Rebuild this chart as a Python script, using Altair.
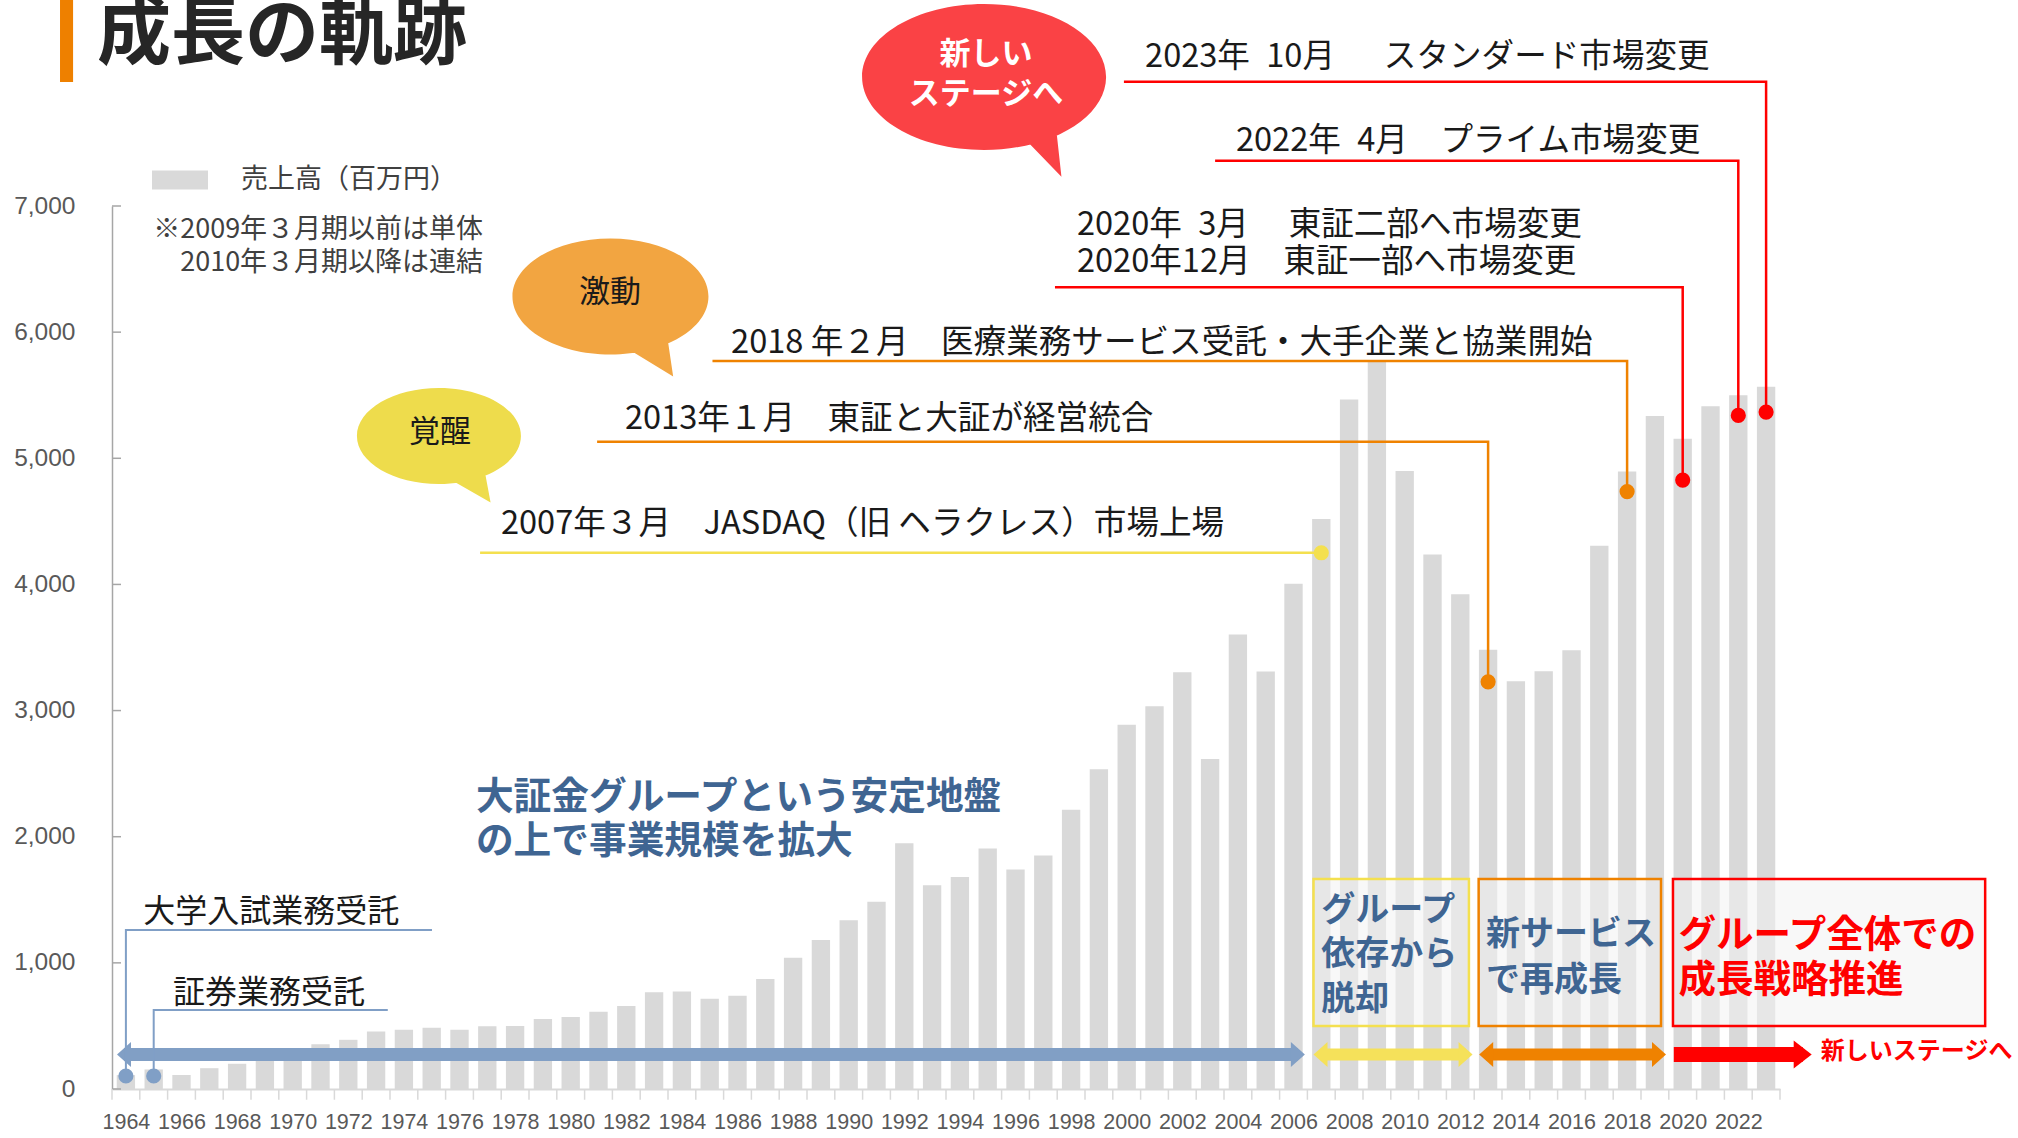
import altair as alt
import pandas as pd

# ---------------- data ----------------
years = list(range(1964, 2024))
sales = [110, 155, 110, 165, 200, 255, 295, 355, 390, 455,
         470, 485, 470, 497, 500, 555, 570, 613, 658, 767,
         772, 716, 740, 872, 1040, 1182, 1338, 1485, 1948, 1615,
         1680, 1906, 1741, 1852, 2214, 2534, 2887, 3034, 3304, 2616,
         3603, 3310, 4005, 4518, 5466, 5780, 4899, 4238, 3923, 3483,
         3232, 3312, 3479, 4307, 4896, 5336, 5154, 5412, 5500, 5568]
series_name = "売上高（百万円）"
label_years = list(range(1964, 2024, 2))
y_ticks = [0, 1000, 2000, 3000, 4000, 5000, 6000, 7000]

# milestones (dot on bar, leader line to a caption)
ms_years = [1964, 1965, 2007, 2013, 2018, 2020, 2022, 2023]
ms_values = [103, 103, 4251, 3228, 4736, 4827, 5340, 5366]
ms_group = ["blue", "blue", "yellow", "orange", "orange", "red", "red", "red"]
ms_leader_start = [1975.01, 1973.42, 1976.74, 1980.95, 1985.10, 1997.42, 2003.18, 1999.90]
ms_leader_level = [1260, 626, 4251, 5131, 5771, 6355, 7359, 7985]

event_texts = ["2023年\u200210月\u3000\u2002スタンダード市場変更",
               "2022年\u20024月\u3000プライム市場変更",
               "2020年\u20023月\u3000 東証二部へ市場変更",
               "2020年12月\u3000東証一部へ市場変更",
               "2018 年２月　医療業務サービス受託・大手企業と協業開始",
               "2013年１月　東証と大証が経営統合",
               "2007年３月　JASDAQ（旧 ヘラクレス）市場上場"]
event_x = [2000.66, 2003.93, 1998.21, 1998.21, 1985.77, 1981.95, 1977.49]
event_y = [8185, 7515, 6850, 6557, 5912, 5310, 4478]

origin_texts = ["大学入試業務受託", "証券業務受託"]
origin_x = [1964.62, 1965.69]
origin_y = [1400, 760]

stage_names = ["yellow", "orange", "red"]
stage_x1 = [2006.72, 2012.66, 2019.65]
stage_x2 = [2012.31, 2019.22, 2030.88]
stage_lines = [["グループ", "依存から", "脱却"], ["新サービス", "で再成長"], ["グループ全体での", "成長戦略推進"]]
stage_line_y = [[1413, 1064, 707], [1223, 858], [1215, 858]]

blue_msg = ["大証金グループという安定地盤", "の上で事業規模を拡大"]
blue_msg_y = [2310, 1955]

note_lines = ["※2009年３月期以前は単体", "2010年３月期以降は連結"]
note_y = [6806, 6552]

# ---------------- style ----------------
JP = "Noto Sans CJK JP"
NUM = "Liberation Sans, Arial, Noto Sans"
BAR = "#D9D9D9"
BLUE_TXT = "#3F6592"
BLUE_LN = "#809FC6"
YELLOW = "#F4E04F"
ORANGE = "#EF8200"
RED = "#FF0000"
COL = {"blue": BLUE_LN, "yellow": YELLOW, "orange": ORANGE, "red": RED}

W, H = 1668, 883
X0, X1 = 1963.5, 2023.5
PXY = W / (X1 - X0)  # pixels per year
xs = alt.Scale(domain=[X0, X1], nice=False, zero=False)
ys = alt.Scale(domain=[0, 7000], nice=False, zero=True)

x_axis = alt.Axis(values=label_years, labelExpr="format(datum.value, 'd')", title=None,
                  ticks=False, grid=False, domainColor=BAR, domainWidth=2, labelFont=NUM,
                  labelFontSize=21.5, labelColor="#595959", labelPadding=22, labelFlush=False,
                  labelOverlap=False)
y_axis = alt.Axis(values=y_ticks, labelExpr="format(datum.value, ',')", title=None,
                  ticks=False, grid=False, domainColor="#A6A6A6", domainWidth=1.5,
                  labelFont=NUM, labelFontSize=24.5, labelColor="#595959", labelPadding=37)


def XQ(f):
    return alt.X(f, type="quantitative", scale=xs, axis=x_axis)


def YQ(f):
    return alt.Y(f, type="quantitative", scale=ys, axis=y_axis)


def XD(v):
    return alt.X(datum=v, scale=xs, axis=x_axis)


def YD(v):
    return alt.Y(datum=v, scale=ys, axis=y_axis)


def ellipse_path(k, tail):
    c = 0.5523
    e = (f"M-1,0C-1,{-c*k:.4f} {-c:.4f},{-k:.4f} 0,{-k:.4f}"
         f"C{c:.4f},{-k:.4f} 1,{-c*k:.4f} 1,0"
         f"C1,{c*k:.4f} {c:.4f},{k:.4f} 0,{k:.4f}"
         f"C{-c:.4f},{k:.4f} -1,{c*k:.4f} -1,0Z")
    (ax, ay), (bx, by), (tx, ty) = tail
    return e + f"M{ax},{ay}L{bx},{by}L{tx},{ty}Z"


layers = []

# ---------------- bars ----------------
bar_df = pd.DataFrame({"year": years, "sales": sales, "series": series_name})
bars = alt.Chart(bar_df).transform_calculate(
    lo="datum.year - 0.33", hi="datum.year + 0.33"
).mark_bar(stroke=None).encode(
    x=XQ("lo:Q"),
    x2="hi:Q",
    y=YQ("sales:Q"),
    y2=alt.Y2(datum=0),
    color=alt.Color("series:N", scale=alt.Scale(domain=[series_name], range=[BAR]),
                    legend=alt.Legend(title=None, orient="none", legendX=40, legendY=-54,
                                      symbolType="M-1,-0.34L1,-0.34L1,0.34L-1,0.34Z",
                                      symbolSize=3136, symbolStrokeWidth=0, symbolOpacity=1,
                                      labelFont=JP, labelFontSize=27, labelColor="#404040",
                                      labelOffset=33, labelLimit=0)),
    tooltip=["year:Q", "sales:Q"],
)
layers.append(bars)

# axis tick marks: inward on y, between bands on x
ytk = pd.DataFrame({"v": y_ticks})
layers.append(alt.Chart(ytk).mark_rule(color="#A6A6A6", strokeWidth=1.5).encode(
    y=YQ("v:Q"), x=XD(X0), x2=alt.X2(datum=X0 + 9 / PXY)))
xtk = pd.DataFrame({"b": [y - 0.5 for y in years] + [years[-1] + 0.5]})
layers.append(alt.Chart(xtk).mark_rule(color=BAR, strokeWidth=1.5).encode(
    x=XQ("b:Q"), y=YD(0), y2=alt.Y2(datum=-85)))

# ---------------- stage boxes ----------------
box_df = pd.DataFrame({"g": stage_names, "x1": stage_x1, "x2": stage_x2})
for g, sc in zip(stage_names, [YELLOW, ORANGE, RED]):
    layers.append(alt.Chart(box_df).transform_filter(f"datum.g == '{g}'").mark_rect(
        fill="#F2F2F2", fillOpacity=0.55, stroke=sc, strokeWidth=2.5).encode(
        x=XQ("x1:Q"), x2="x2:Q", y=YD(499), y2=alt.Y2(datum=1665)))


# ---------------- arrows ----------------
def arrow(xl, xr, yv, color, body, hw, hh, left_head=True):
    out = []
    a = hw / (hh / 2)
    lc = xl + hw / PXY if left_head else xl
    rc = xr - hw / PXY
    df = pd.DataFrame({"a": [lc], "b": [rc], "y": [yv]})
    out.append(alt.Chart(df).mark_rule(color=color, strokeWidth=body, strokeCap="butt").encode(
        x=XQ("a:Q"), x2="b:Q", y=YQ("y:Q")))
    heads = [(rc, f"M-{a:.3f},-1L{a:.3f},0L-{a:.3f},1Z")]
    if left_head:
        heads.append((lc, f"M{a:.3f},-1L-{a:.3f},0L{a:.3f},1Z"))
    for hx, shp in heads:
        hdf = pd.DataFrame({"x": [hx], "y": [yv]})
        out.append(alt.Chart(hdf).mark_point(shape=shp, size=hh * hh, filled=True, fill=color,
                                              opacity=1, strokeWidth=0).encode(
            x=XQ("x:Q"), y=YQ("y:Q")))
    return out


layers += arrow(1963.68, 2006.41, 273, "#819FC5", 13, 7, 25)
layers += arrow(2006.72, 2012.44, 273, "#F5E15A", 12, 7, 25)
layers += arrow(2012.68, 2019.40, 273, ORANGE, 12, 7, 25)
layers += arrow(2019.68, 2024.64, 273, RED, 15, 9, 28, left_head=False)

# ---------------- leader lines & dots ----------------
rows = []
for i, (yr, v, g, xs0, lv) in enumerate(zip(ms_years, ms_values, ms_group, ms_leader_start, ms_leader_level)):
    rows += [dict(id=i, seq=0, x=xs0, y=lv, g=g), dict(id=i, seq=1, x=yr, y=lv, g=g),
             dict(id=i, seq=2, x=yr, y=v, g=g)]
lead_df = pd.DataFrame(rows)
dot_df = pd.DataFrame({"x": ms_years, "y": ms_values, "g": ms_group})
for g in ["blue", "yellow", "orange", "red"]:
    layers.append(alt.Chart(lead_df).transform_filter(f"datum.g == '{g}'").mark_line(
        color=COL[g], strokeWidth=2 if g == "blue" else 2.5, strokeJoin="miter").encode(
        x=XQ("x:Q"), y=YQ("y:Q"), detail="id:N", order="seq:Q"))
for g in ["blue", "yellow", "orange", "red"]:
    layers.append(alt.Chart(dot_df).transform_filter(f"datum.g == '{g}'").mark_point(
        shape="circle", size=230, filled=True, color=COL[g], opacity=1).encode(
        x=XQ("x:Q"), y=YQ("y:Q")))

# ---------------- speech bubbles ----------------
bubbles = [
    (1975.26, 5177, 164, 0.585, [(0.156, 0.54), (0.552, 0.394), (0.63, 0.81)], "#EEDC4C"),
    (1981.43, 6283, 196, 0.592, [(0.172, 0.532), (0.575, 0.377), (0.64, 0.818)], "#F2A541"),
    (1994.87, 8023, 244, 0.598, [(0.289, 0.461), (0.587, 0.389), (0.634, 0.817)], "#FA4245"),
]
for bx, by, wd, k, tail, colr in bubbles:
    bdf = pd.DataFrame({"x": [bx], "y": [by]})
    layers.append(alt.Chart(bdf).mark_point(shape=ellipse_path(k, tail), size=wd * wd, filled=True,
                                            fill=colr, opacity=1, strokeWidth=0).encode(
        x=XQ("x:Q"), y=YQ("y:Q")))


# ---------------- texts ----------------
def text_layer(texts, xv, yv, size, color, weight="normal", align="left", baseline="middle"):
    df = pd.DataFrame({"t": texts, "x": xv, "y": yv})
    return alt.Chart(df).mark_text(font=JP, fontSize=size, color=color, fontWeight=weight,
                                   align=align, baseline=baseline).encode(
        x=XQ("x:Q"), y=YQ("y:Q"), text="t:N")


layers.append(text_layer(event_texts, event_x, event_y, 32.6, "#1A1A1A"))
layers.append(text_layer(origin_texts, origin_x, origin_y, 32, "#1A1A1A"))
layers.append(text_layer(blue_msg, [1976.59] * 2, blue_msg_y, 37.7, BLUE_TXT, "bold"))
layers.append(text_layer(stage_lines[0], [2007.0] * 3, stage_line_y[0], 34, BLUE_TXT, "bold"))
layers.append(text_layer(stage_lines[1], [2012.92] * 2, stage_line_y[1], 34, BLUE_TXT, "bold"))
layers.append(text_layer(stage_lines[2], [2019.85] * 2, stage_line_y[2], 37.5, RED, "bold"))
layers.append(text_layer(["新しいステージへ"], [2024.97], [293], 24, RED, "bold"))
layers.append(text_layer(["覚醒", "激動"], [1975.30, 1981.41], [5200, 6310], 31, "#1A1A1A", align="center"))
layers.append(text_layer(["新しい", "ステージへ"], [1994.94] * 2, [8195, 7880], 31, "white", "bold", align="center"))
layers.append(text_layer(note_lines, [1976.85] * 2, note_y, 27, "#404040", align="right"))
layers.append(text_layer(["成長の軌跡"], [1962.96], [8173], 74, "#262626", "bold", baseline="alphabetic"))

# title accent bar
acc = pd.DataFrame({"x1": [1961.63], "x2": [1962.10], "y1": [7983], "y2": [8640]})
layers.append(alt.Chart(acc).mark_rect(color="#EE8000").encode(
    x=XQ("x1:Q"), x2="x2:Q", y=YQ("y1:Q"), y2="y2:Q"))

chart = alt.layer(*layers).properties(
    width=W, height=H,
    autosize=alt.AutoSizeParams(type="none"),
    padding={"left": 112, "top": 206, "right": 238, "bottom": 49},
    background="white",
).configure_view(stroke=None)

chart.save("out.html", embed_options={"renderer": "svg", "actions": False})
